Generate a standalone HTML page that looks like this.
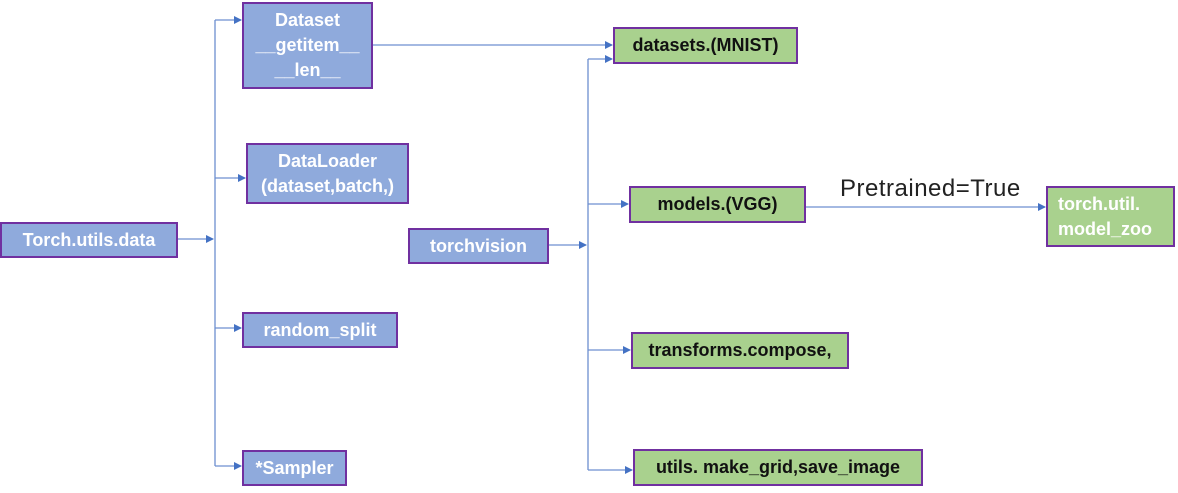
<!DOCTYPE html>
<html><head><meta charset="utf-8"><style>
body{margin:0;width:1178px;height:493px;background:#fff;position:relative;overflow:hidden;font-family:"Liberation Sans","Noto Sans CJK SC",sans-serif;}
.b{position:absolute;box-sizing:border-box;border:2px solid #7030a0;display:flex;align-items:center;justify-content:center;text-align:center;font-weight:bold;font-size:18px;line-height:25px;}
.bl{background:#8faadc;color:#fff;}
.gr{background:#a9d18e;color:#111;}
svg{position:absolute;left:0;top:0;}
</style></head><body>
<svg width="1178" height="493">
<defs><marker id="a" markerWidth="8" markerHeight="8" refX="7" refY="4" orient="auto" markerUnits="userSpaceOnUse"><path d="M0,0 L8,4 L0,8z" fill="#4472c4"/></marker></defs>
<g stroke="#6d8fd0" stroke-width="1.3" fill="none">
<path d="M178,239 H213" marker-end="url(#a)"/>
<path d="M215,20 V466"/>
<path d="M215,20 H241" marker-end="url(#a)"/>
<path d="M215,178 H245" marker-end="url(#a)"/>
<path d="M215,328 H241" marker-end="url(#a)"/>
<path d="M215,466 H241" marker-end="url(#a)"/>
<path d="M372,45 H612" marker-end="url(#a)"/>
<path d="M548,245 H586" marker-end="url(#a)"/>
<path d="M588,59 V470"/>
<path d="M588,59 H612" marker-end="url(#a)"/>
<path d="M588,204 H628" marker-end="url(#a)"/>
<path d="M588,350 H630" marker-end="url(#a)"/>
<path d="M588,470 H632" marker-end="url(#a)"/>
<path d="M805,207 H1045" marker-end="url(#a)"/>
</g>
</svg>
<div class="b bl" style="left:0;top:222px;width:178px;height:36px;">Torch.utils.data</div>
<div class="b bl" style="left:242px;top:2px;width:131px;height:87px;">Dataset<br>__getitem__<br>__len__</div>
<div class="b bl" style="left:246px;top:143px;width:163px;height:61px;">DataLoader<br>(dataset,batch,)</div>
<div class="b bl" style="left:242px;top:312px;width:156px;height:36px;">random_split</div>
<div class="b bl" style="left:242px;top:450px;width:105px;height:36px;">*Sampler</div>
<div class="b bl" style="left:408px;top:228px;width:141px;height:36px;">torchvision</div>
<div class="b gr" style="left:613px;top:27px;width:185px;height:37px;">datasets.(MNIST)</div>
<div class="b gr" style="left:629px;top:186px;width:177px;height:37px;">models.(VGG)</div>
<div class="b bl" style="left:1046px;top:186px;width:129px;height:61px;background:#a9d18e;justify-content:flex-start;text-align:left;padding-left:10px;">torch.util.<br>model_zoo</div>
<div class="b gr" style="left:631px;top:332px;width:218px;height:37px;">transforms.compose,</div>
<div class="b gr" style="left:633px;top:449px;width:290px;height:37px;">utils. make_grid,save_image</div>
<div style="position:absolute;left:840px;top:175px;font-size:24px;color:#222;letter-spacing:0.5px;">Pretrained=True</div>
</body></html>
